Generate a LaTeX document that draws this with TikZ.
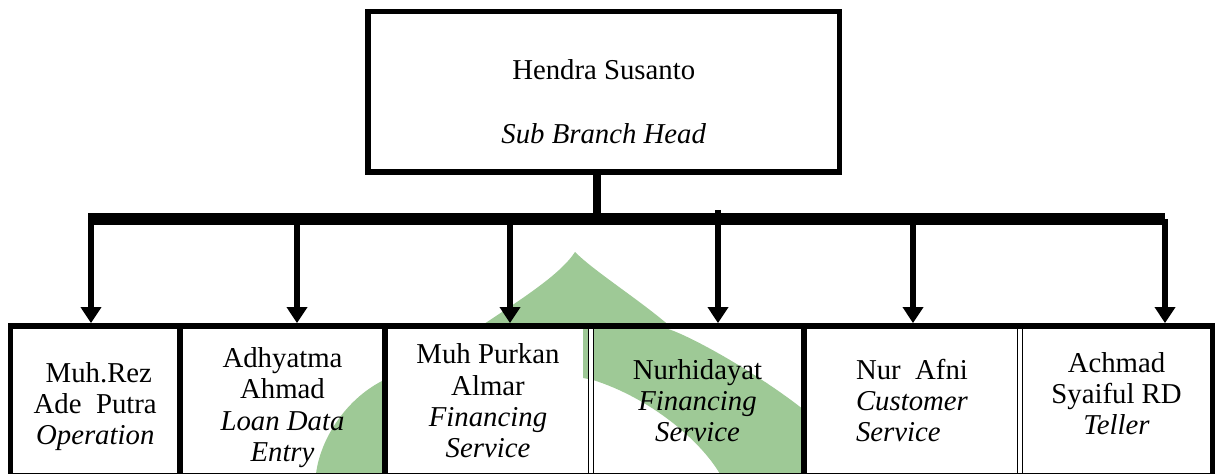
\documentclass[tikz,border=0pt]{standalone}
\usepackage{fontspec}
\setmainfont{Liberation Serif}
\usetikzlibrary{arrows.meta}
\definecolor{logogreen}{RGB}{158,201,150}
\newcommand{\pxl}{0.417pt}

\begin{document}
\begin{tikzpicture}[x=\pxl,y=-\pxl,
  >={Triangle[length=6.7pt,width=8.3pt]},
  headbox/.style={draw,line width=2.3pt,align=center,inner sep=0pt,
    minimum width=471.5*\pxl,minimum height=160.5*\pxl,
    font=\fontsize{12}{14}\selectfont},
  staff/.style={align=center,inner sep=0pt,outer sep=0pt,
    minimum height=149.5*\pxl,font=\fontsize{12}{13}\selectfont},
  frame/.style={line width=2.5pt},
  divider/.style={line width=2.5pt},
  twinline/.style={draw=black,line width=0.55pt,double=white,double distance=1.8pt},
  stem/.style={line width=3.3pt},
  bar/.style={line width=5pt},
  link/.style={line width=2.6pt,shorten >=1.2pt}]

\useasboundingbox (0,0) rectangle (1215,474);

% watermark behind the chart
\fill[logogreen] (478,328) .. controls (520,300) and (560,275) .. (575,252)
  .. controls (595,272) and (640,300) .. (672,328) -- cycle;
\fill[logogreen] (316,474) .. controls (320,440) and (345,400) .. (382,381)
  -- (382,474) -- cycle;
\fill[logogreen] (583,328) -- (665,328) .. controls (690,335) and (760,375) .. (804,410)
  -- (804,474) -- (720,474) .. controls (700,440) and (650,398) .. (593,380)
  -- (583,378) -- cycle;

% Head
\node[headbox] (head) at (603.75,91.75)
  {\rule{0pt}{16.6pt}Hendra Susanto\\[12.5pt]\textit{Sub Branch Head}};

% Staff row
\node[staff,minimum width=169.5*\pxl] (rez) at (95.25,400.75)
  {\rule{0pt}{13.3pt}\ Muh.Rez\\Ade\ \ Putra\\\textit{Operation}};
\node[staff,minimum width=205*\pxl] (adhyatma) at (282.5,400.75)
  {\rule{0pt}{14.1pt}Adhyatma\\Ahmad\\\textit{Loan Data}\\\textit{Entry}};
\node[staff,minimum width=206*\pxl] (purkan) at (488,400.75)
  {Muh Purkan\\Almar\\\textit{Financing}\\\textit{Service}};
\node[staff,minimum width=213*\pxl] (nurhidayat) at (697.5,400.75)
  {Nurhidayat\\\textit{Financing}\\\textit{Service}};
\node[staff,minimum width=216*\pxl,align=left] (afni) at (912,400.75)
  {Nur\ \ Afni\\\textit{Customer}\\\textit{Service}};
\node[staff,minimum width=193*\pxl] (achmad) at (1116.5,400.75)
  {Achmad\\Syaiful RD\\\textit{Teller}\rule[-5.8pt]{0pt}{0pt}};

\draw[divider] (rez.north east) -- (rez.south east);
\draw[divider] (adhyatma.north east) -- (adhyatma.south east);
\draw[twinline] (purkan.north east) -- (purkan.south east);
\draw[divider] (nurhidayat.north east) -- (nurhidayat.south east);
\draw[twinline] (afni.north east) -- (afni.south east);
\draw[frame] (rez.north west) rectangle (achmad.south east);

% Connectors
\coordinate (barL) at (88,219);
\coordinate (barR) at (1165,219);
\coordinate (t1) at (91,219);
\coordinate (t2) at (297,219);
\coordinate (t3) at (510,219);
\coordinate (t4) at (718,210);
\coordinate (t5) at (913,219);

\draw[stem] ([xshift=-2.8pt]head.south) -- ([xshift=-2.8pt]head.south |- barL);
\draw[->,link] (t1) -- (t1 |- rez.north);
\draw[->,link] (t2) -- (t2 |- adhyatma.north);
\draw[->,link] (t3) -- (t3 |- purkan.north);
\draw[->,link] (t4) -- (t4 |- nurhidayat.north);
\draw[->,link] (t5) -- (t5 |- afni.north);
\draw[->,link] (barR) -- (barR |- achmad.north);
\draw[bar] (barL) -- (barR);

\end{tikzpicture}
\end{document}
